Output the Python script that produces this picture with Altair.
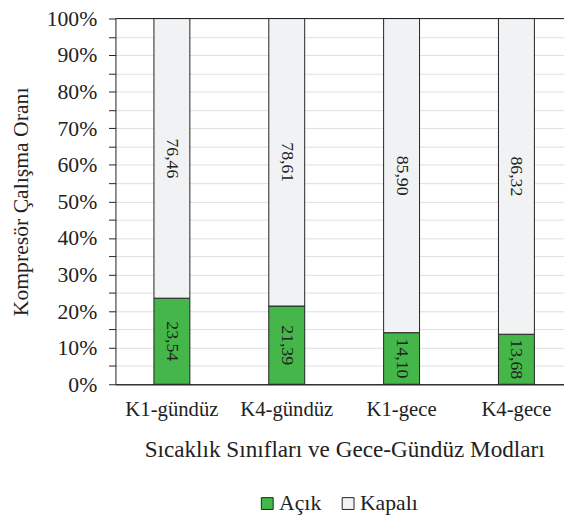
import altair as alt
import pandas as pd

categories = ["K1-gündüz", "K4-gündüz", "K1-gece", "K4-gece"]
acik = [23.54, 21.39, 14.10, 13.68]
kapali = [76.46, 78.61, 85.90, 86.32]
series = ["Açık", "Kapalı"]
colors = ["#45b649", "#f1f2f4"]
y_ticks = [round(i * 0.05, 2) for i in range(21)]

rows = []
for c, a, k in zip(categories, acik, kapali):
    rows.append({"cat": c, "series": "Açık", "order": 0, "val": a / 100,
                 "label": f"{a:.2f}".replace(".", ",")})
    rows.append({"cat": c, "series": "Kapalı", "order": 1, "val": k / 100,
                 "label": f"{k:.2f}".replace(".", ",")})
df = pd.DataFrame(rows)

FONT = "Liberation Serif"
PW, PH = 455, 371

xscale = alt.Scale(domain=categories, range=[0, 464], paddingInner=0.687, paddingOuter=0.335)
yscale = alt.Scale(domain=[0, 1], nice=False)

x_axis = alt.Axis(title="Sıcaklık Sınıfları ve Gece-Gündüz Modları", labelAngle=0,
                  ticks=False, domainColor="#333333", domainWidth=1.3, labelFont=FONT,
                  labelFontSize=21, labelColor="#222222", labelPadding=15, titleFont=FONT,
                  titleFontSize=23.5, titleFontWeight="normal", titleColor="#222222",
                  titlePadding=18)
y_axis = alt.Axis(title="Kompresör Çalışma Oranı", values=y_ticks,
                  labelExpr="round(datum.value*100) % 10 == 0 ? round(datum.value*100) + '%' : ''",
                  labelOverlap=False, labelBound=False,
                  tickSize=7, tickColor="#222222", domainColor="#222222",
                  gridColor="#dedede", labelFont=FONT, labelFontSize=22,
                  labelColor="#222222", labelPadding=12, titleFont=FONT,
                  titleFontSize=22, titleFontWeight="normal", titleColor="#222222",
                  titlePadding=14)

base = alt.Chart(df).transform_stack(
    stack="val", as_=["y0", "y1"], groupby=["cat"], sort=[alt.SortField("order")]
).transform_calculate(mid="(datum.y0 + datum.y1) / 2")

bars = base.mark_bar(stroke="#222222", strokeWidth=1).encode(
    x=alt.X("cat:N", scale=xscale, sort=categories, axis=x_axis),
    y=alt.Y("y0:Q", scale=yscale, axis=y_axis),
    y2="y1:Q",
    color=alt.Color("series:N", scale=alt.Scale(domain=series, range=colors),
                    legend=alt.Legend(title=None, orient="none", direction="horizontal",
                                      legendX=143, legendY=481, symbolType="square",
                                      symbolSize=144, symbolStrokeColor="#222222",
                                      symbolStrokeWidth=1, labelFont=FONT, labelFontSize=22,
                                      labelColor="#222222", labelOffset=1, columnPadding=16)),
)

texts = base.mark_text(angle=90, font=FONT, fontSize=18, color="#222222",
                       align="center", baseline="middle").encode(
    x=alt.X("cat:N", scale=xscale, sort=categories, axis=x_axis),
    y=alt.Y("mid:Q", scale=yscale, axis=y_axis),
    text="label:N",
)

top_line = alt.Chart(pd.DataFrame({"v": [1.0]})).mark_rule(color="#222222", strokeWidth=1).encode(
    y=alt.Y("v:Q", scale=yscale, axis=y_axis),
    x=alt.value(0),
    x2=alt.value(PW),
)

chart = alt.layer(bars, texts, top_line).properties(
    width=PW, height=PH,
    autosize=alt.AutoSizeParams(type="none"),
    padding={"left": 109, "top": 7, "right": 0, "bottom": 134},
).configure_view(stroke=None)

chart.save("out.html", embed_options={"renderer": "svg", "actions": False})
